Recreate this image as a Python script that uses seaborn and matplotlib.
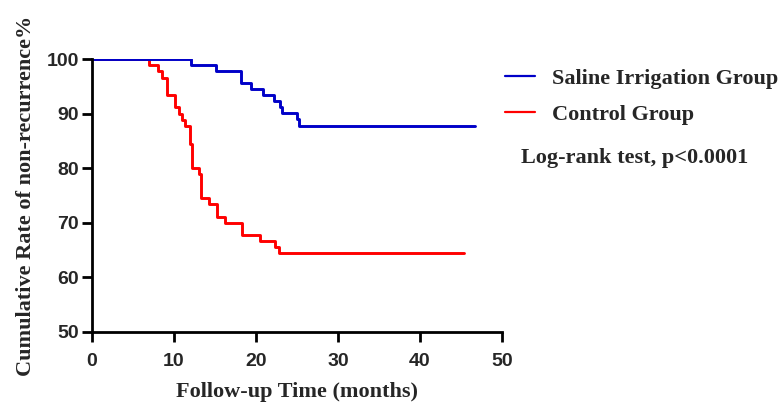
import seaborn as sns
import matplotlib.pyplot as plt
import pandas as pd

# Kaplan-Meier step values
saline_time = [0, 12.1, 15.1, 18.2, 19.4, 20.8, 22.2, 22.9, 23.2, 25.0, 25.2, 46.7]
saline_surv = [100, 98.9, 97.8, 95.6, 94.5, 93.4, 92.3, 91.2, 90.1, 89.0, 87.8, 87.8]

control_time = [0, 7.0, 8.0, 8.5, 9.1, 10.1, 10.6, 11.0, 11.3, 12.0, 12.15,
                13.1, 13.3, 14.3, 15.2, 16.2, 18.3, 20.5, 22.3, 22.8, 45.4]
control_surv = [100, 98.9, 97.8, 96.6, 93.4, 91.2, 90.0, 88.9, 87.8, 84.5, 80.0,
                78.9, 74.5, 73.4, 71.1, 70.0, 67.8, 66.7, 65.6, 64.4, 64.4]

groups = ["Saline Irrigation Group", "Control Group"]
colors = {"Saline Irrigation Group": "#0000C8", "Control Group": "#FF0000"}
x_ticks = [0, 10, 20, 30, 40, 50]
y_ticks = [50, 60, 70, 80, 90, 100]

sns.set_theme(style="ticks")
plt.rcParams['font.family'] = ['Liberation Sans', 'DejaVu Sans']

df_saline = pd.DataFrame({"time": saline_time, "surv": saline_surv, "group": groups[0]})
df_control = pd.DataFrame({"time": control_time, "surv": control_surv, "group": groups[1]})

fig = plt.figure(figsize=(7.83, 4.03), dpi=100)
ax = fig.add_axes([0.1175, 0.1774, 0.5236, 0.6750])

# control first so the blue line sits on top at 100%
sns.lineplot(data=df_control, x="time", y="surv", drawstyle="steps-post",
             color=colors[groups[1]], lw=2.1, estimator=None, ax=ax, label=groups[1])
sns.lineplot(data=df_saline, x="time", y="surv", drawstyle="steps-post",
             color=colors[groups[0]], lw=2.1, estimator=None, ax=ax, label=groups[0])

ax.set_xlim(0, 50)
ax.set_ylim(50, 100)
ax.set_xticks(x_ticks)
ax.set_yticks(y_ticks)
for s in ["top", "right"]:
    ax.spines[s].set_visible(False)
for s in ["left", "bottom"]:
    ax.spines[s].set_linewidth(2)
    ax.spines[s].set_color("black")
ax.tick_params(width=2, length=7.5, color="black", labelsize=14)
ax.tick_params(axis="x", pad=8)
ax.tick_params(axis="y", pad=2)
for lab in ax.get_xticklabels() + ax.get_yticklabels():
    lab.set_fontweight("bold")

serif = ['Liberation Serif', 'DejaVu Serif']
ax.set_xlabel("Follow-up Time (months)", family=serif, fontweight="bold", fontsize=16, labelpad=8.5)
ax.set_ylabel("Cumulative Rate of non-recurrence%", family=serif, fontweight="bold", fontsize=16, labelpad=7.5)

handles, labels = ax.get_legend_handles_labels()
order = [labels.index(g) for g in groups]
leg = ax.legend([handles[i] for i in order], [labels[i] for i in order],
                loc="upper left", bbox_to_anchor=(0.619, 0.880), bbox_transform=fig.transFigure,
                frameon=False, handlelength=1.35, handletextpad=0.77, labelspacing=0.68,
                prop={"family": serif, "weight": "bold", "size": 16})
for h in leg.get_lines():
    h.set_linewidth(1.6)

fig.text(0.666, 0.607, "Log-rank test, p<0.0001", family=serif, fontweight="bold",
         fontsize=16, va="center", ha="left")

fig.savefig("out.png", dpi=100)
